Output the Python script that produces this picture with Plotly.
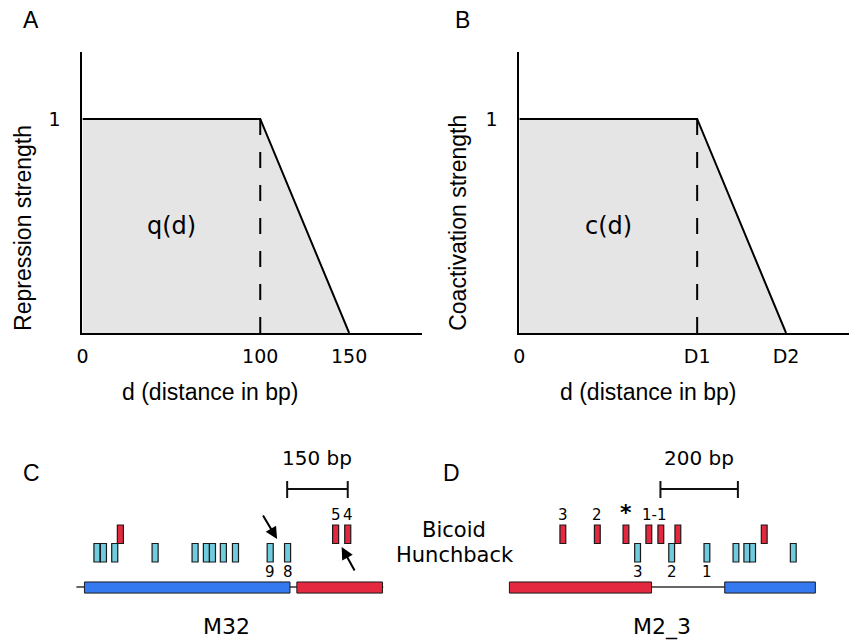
import plotly.graph_objects as go

W, H = 849, 641

# ---------------- Panels A / B : distance functions ----------------
dist_knots = [0, 100, 150]          # d (bp) at the knots of the profile
strength = [1, 1, 0]                # repression / coactivation strength
tick_vals = [0, 100, 150]
ticks_A = ["0", "100", "150"]
ticks_B = ["0", "D1", "D2"]

# ---------------- Panel C : M32 (positions in bp) ----------------
c_blue_enh = [0, 509]
c_red_enh = [526, 738]
c_backbone = [-20, 740]
c_hb_sites = [31, 47, 75, 175, 274, 302, 317, 344, 374, 460, 503]
c_bcd_sites = [89, 622, 652]
c_bcd_lab_pos = [622, 652]
c_bcd_lab_txt = ["5", "4"]
c_hb_lab_pos = [460, 503]
c_hb_lab_txt = ["9", "8"]
c_scale = [502, 652]
c_scale_txt = "150 bp"

# ---------------- Panel D : M2_3 (positions in bp) ----------------
d_red_enh = [0, 367]
d_blue_enh = [556, 790]
d_backbone = [0, 790]
d_bcd_sites = [138, 227, 301, 360, 391, 435, 658]
d_hb_sites = [331, 419, 510, 585, 613, 628, 733]
d_bcd_lab_pos = [138, 227, 375.5]
d_bcd_lab_txt = ["3", "2", "1-1"]
d_star_pos = [301]
d_hb_lab_pos = [331, 419, 510]
d_hb_lab_txt = ["3", "2", "1"]
d_scale = [390, 590]
d_scale_txt = "200 bp"

SITE_W = 15  # bp

# ---------------- styling ----------------
RED = "#e3283f"
BLUE = "#3579f0"
CYAN = "#6fcbdd"
GRAY = "#e5e5e5"
EDGE = "#1a1a1a"
ARIAL = "Liberation Sans, Arial, sans-serif"
DEJAVU = "DejaVu Sans, sans-serif"


def px(x):
    return x / W


def py(y):
    return 1 - y / H


fig = go.Figure()

# ---- A & B profile traces ----
for xa, ya in (("x", "y"), ("x2", "y2")):
    fig.add_trace(go.Scatter(
        x=[dist_knots[0], dist_knots[0], dist_knots[1], dist_knots[2]],
        y=[0, strength[0], strength[1], strength[2]],
        fill="toself", fillcolor=GRAY, mode="lines", line=dict(width=0),
        hoverinfo="skip", showlegend=False, xaxis=xa, yaxis=ya))
    fig.add_trace(go.Scatter(
        x=dist_knots, y=strength, mode="lines",
        line=dict(color="black", width=2), showlegend=False,
        xaxis=xa, yaxis=ya))
    fig.add_trace(go.Scatter(
        x=[dist_knots[1], dist_knots[1]], y=[strength[1], 0], mode="lines",
        line=dict(color="black", width=2, dash="16px,17px"),
        showlegend=False, xaxis=xa, yaxis=ya))

# placeholder traces so schematic axes exist
for xa, ya in (("x3", "y3"), ("x4", "y4")):
    fig.add_trace(go.Scatter(x=[None], y=[None], xaxis=xa, yaxis=ya,
                             showlegend=False))

axis_common = dict(showgrid=False, zeroline=False, showline=True,
                   linecolor="black", linewidth=2, ticks="",
                   tickfont=dict(family=DEJAVU, size=19, color="black"),
                   fixedrange=True)

yA_dom = [py(333), py(52)]
fig.update_layout(
    xaxis=dict(domain=[px(77), px(419)], range=[0, 191], anchor="y",
               tickvals=tick_vals, ticktext=ticks_A, ticklabelstandoff=5,
               **axis_common),
    yaxis=dict(domain=yA_dom, range=[0, 1.313], anchor="x",
               tickvals=[1], ticktext=["1"], ticklabelstandoff=16,
               **axis_common),
    xaxis2=dict(domain=[px(517), 1], range=[0, 185.4], anchor="y2",
                tickvals=tick_vals, ticktext=ticks_B, ticklabelstandoff=5,
                **axis_common),
    yaxis2=dict(domain=yA_dom, range=[0, 1.313], anchor="x2",
                tickvals=[1], ticktext=["1"], ticklabelstandoff=16,
                **axis_common),
)

# schematic axes: px per bp and origin
ROW = 18.5  # px per row unit, y=0 at px 562
y_rng = [(562 - 641) / ROW, (562 - 440) / ROW]
sC, oC = 0.4067, 79
sD, oD = 0.39, 507
fig.update_layout(
    xaxis3=dict(domain=[0, 0.5], range=[(0 - oC) / sC, (W / 2 - oC) / sC],
                visible=False, anchor="y3", fixedrange=True),
    yaxis3=dict(domain=[0, py(440)], range=y_rng, visible=False,
                anchor="x3", fixedrange=True),
    xaxis4=dict(domain=[0.5, 1], range=[(W / 2 - oD) / sD, (W - oD) / sD],
                visible=False, anchor="y4", fixedrange=True),
    yaxis4=dict(domain=[0, py(440)], range=y_rng, visible=False,
                anchor="x4", fixedrange=True),
)

HB_ROW = (0.0, 1.0)
BCD_ROW = (1.0, 2.0)
ENH_Y = (-1.68, -1.08)
BB_Y = -1.35
LAB_ABOVE = 2.55
LAB_BELOW = -0.55
SCALE_Y = 3.95
SCALE_TICK = (3.46, 4.38)
SCALE_TXT_Y = 5.62
NAME_Y = -3.51

shapes = []
annotations = []


def txt(**kw):
    kw.setdefault("showarrow", False)
    kw.setdefault("xanchor", "center")
    kw.setdefault("yanchor", "middle")
    annotations.append(kw)


def schematic(xr, yr, backbone, enhs, hb, bcd, scale, scale_txt,
              bcd_lab, hb_lab):
    shapes.append(dict(type="line", xref=xr, yref=yr, x0=backbone[0],
                       x1=backbone[1], y0=BB_Y, y1=BB_Y,
                       line=dict(color="#333333", width=1.3), layer="below"))
    for (a, b), col in enhs:
        shapes.append(dict(type="rect", xref=xr, yref=yr, x0=a, x1=b,
                           y0=ENH_Y[0], y1=ENH_Y[1], fillcolor=col,
                           line=dict(color=EDGE, width=1)))
    for c in hb:
        shapes.append(dict(type="rect", xref=xr, yref=yr,
                           x0=c - SITE_W / 2, x1=c + SITE_W / 2,
                           y0=HB_ROW[0], y1=HB_ROW[1], fillcolor=CYAN,
                           line=dict(color=EDGE, width=1.2)))
    for c in bcd:
        shapes.append(dict(type="rect", xref=xr, yref=yr,
                           x0=c - SITE_W / 2, x1=c + SITE_W / 2,
                           y0=BCD_ROW[0], y1=BCD_ROW[1], fillcolor=RED,
                           line=dict(color=EDGE, width=1.2)))
    # scale bar
    shapes.append(dict(type="line", xref=xr, yref=yr, x0=scale[0],
                       x1=scale[1], y0=SCALE_Y, y1=SCALE_Y,
                       line=dict(color="#111111", width=2)))
    for s in scale:
        shapes.append(dict(type="line", xref=xr, yref=yr, x0=s, x1=s,
                           y0=SCALE_TICK[0], y1=SCALE_TICK[1],
                           line=dict(color="#111111", width=2)))
    txt(xref=xr, yref=yr, x=(scale[0] + scale[1]) / 2, y=SCALE_TXT_Y,
        text=scale_txt, font=dict(family=DEJAVU, size=20, color="black"))
    for pos, t in zip(*bcd_lab):
        txt(xref=xr, yref=yr, x=pos, y=LAB_ABOVE, text=t,
            font=dict(family=DEJAVU, size=15, color="black"))
    for pos, t in zip(*hb_lab):
        txt(xref=xr, yref=yr, x=pos, y=LAB_BELOW, text=t,
            font=dict(family=DEJAVU, size=15, color="black"))


schematic("x3", "y3", c_backbone, [(c_blue_enh, BLUE), (c_red_enh, RED)],
          c_hb_sites, c_bcd_sites, c_scale, c_scale_txt,
          (c_bcd_lab_pos, c_bcd_lab_txt), (c_hb_lab_pos, c_hb_lab_txt))
schematic("x4", "y4", d_backbone, [(d_red_enh, RED), (d_blue_enh, BLUE)],
          d_hb_sites, d_bcd_sites, d_scale, d_scale_txt,
          (d_bcd_lab_pos, d_bcd_lab_txt), (d_hb_lab_pos, d_hb_lab_txt))

for pos in d_star_pos:
    txt(xref="x4", yref="y4", x=pos, y=LAB_ABOVE + 0.1, text="<b>*</b>",
        font=dict(family=DEJAVU, size=22, color="black"))

# arrows in panel C (tail -> head, in bp / row units)
c_arrows = [((440, 2.59), (477, 1.24)), ((671, -0.54), (637, 0.81))]
for (tx, ty), (hx, hy) in c_arrows:
    annotations.append(dict(xref="x3", yref="y3", axref="x3", ayref="y3",
                            x=hx, y=hy, ax=tx, ay=ty, text="",
                            showarrow=True, arrowhead=2, arrowsize=1.2,
                            arrowwidth=2, arrowcolor="black", standoff=0,
                            startstandoff=0))

# construct names
txt(xref="x3", yref="y3", x=352, y=NAME_Y, text="M32",
    font=dict(family=DEJAVU, size=22, color="black"))
txt(xref="x4", yref="y4", x=395, y=NAME_Y, text="M2_3",
    font=dict(family=DEJAVU, size=22, color="black"))

# row labels
txt(xref="paper", yref="y4", x=px(451), y=1.73, text="Bicoid",
    font=dict(family=DEJAVU, size=21, color="black"))
txt(xref="paper", yref="y4", x=px(452), y=0.38, text="Hunchback",
    font=dict(family=DEJAVU, size=21, color="black"))

# function labels
for xr, yr, t in (("x", "y", "q(d)"), ("x2", "y2", "c(d)")):
    txt(xref=xr, yref=yr, x=50, y=0.5, text=t,
        font=dict(family=DEJAVU, size=24, color="black"))

# axis titles
for cx, t in ((205, "d (distance in bp)"), (647, "d (distance in bp)")):
    txt(xref="paper", yref="paper", x=px(cx), y=py(392), text=t,
        font=dict(family=ARIAL, size=23, color="black"))
for cx, t in ((17, "Repression strength"), (455, "Coactivation strength")):
    txt(xref="paper", yref="paper", x=px(cx), y=py(333), text=t,
        textangle=-90, yanchor="bottom",
        font=dict(family=ARIAL, size=23, color="black"))

# panel letters
for cx, cy, t in ((25, 20, "A"), (460, 20, "B"), (26, 473, "C"),
                  (449, 473, "D")):
    txt(xref="paper", yref="paper", x=px(cx), y=py(cy), text=t,
        font=dict(family=ARIAL, size=23, color="black"))

fig.update_layout(
    width=W, height=H, margin=dict(l=0, r=0, t=0, b=0),
    paper_bgcolor="white", plot_bgcolor="rgba(0,0,0,0)",
    shapes=shapes, annotations=annotations, showlegend=False,
)

fig.write_html("out.html")
